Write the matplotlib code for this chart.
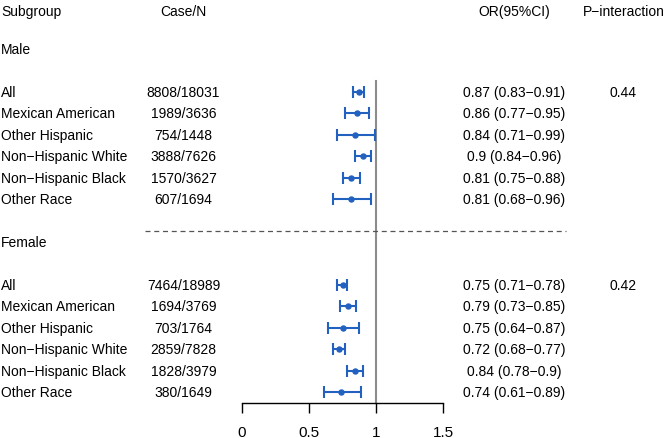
import numpy as np
import matplotlib
matplotlib.use("Agg")
import matplotlib.pyplot as plt
import matplotlib.transforms as mtransforms

plt.rcParams['font.family'] = ['Liberation Sans', 'DejaVu Sans']

# data
groups = ["Male", "Female"]
subgroups = ["All", "Mexican American", "Other Hispanic",
             "Non\u2212Hispanic White", "Non\u2212Hispanic Black", "Other Race"]
case_n = [["8808/18031", "1989/3636", "754/1448", "3888/7626", "1570/3627", "607/1694"],
          ["7464/18989", "1694/3769", "703/1764", "2859/7828", "1828/3979", "380/1649"]]
odds = [[0.87, 0.86, 0.84, 0.90, 0.81, 0.81],
        [0.75, 0.79, 0.75, 0.72, 0.84, 0.74]]
lower = [[0.83, 0.77, 0.71, 0.84, 0.75, 0.68],
         [0.71, 0.73, 0.64, 0.68, 0.78, 0.61]]
upper = [[0.91, 0.95, 0.99, 0.96, 0.88, 0.96],
         [0.78, 0.85, 0.87, 0.77, 0.90, 0.89]]
or_text = [["0.87 (0.83\u22120.91)", "0.86 (0.77\u22120.95)", "0.84 (0.71\u22120.99)",
            "0.9 (0.84\u22120.96)", "0.81 (0.75\u22120.88)", "0.81 (0.68\u22120.96)"],
           ["0.75 (0.71\u22120.78)", "0.79 (0.73\u22120.85)", "0.75 (0.64\u22120.87)",
            "0.72 (0.68\u22120.77)", "0.84 (0.78\u22120.9)", "0.74 (0.61\u22120.89)"]]
p_inter = ["0.44", "0.42"]
xticks = [0, 0.5, 1, 1.5]

W, H = 667, 439
blue = "#2361c0"

fig = plt.figure(figsize=(W / 100, H / 100), dpi=100)
ax = fig.add_axes([0, 0, 1, 1])

# x: 0 -> 242 px, 1.5 -> 443 px ; y: row units, 21.45 px per row
px_per_unit = (443.3 - 242) / 1.5
ax.set_xlim(-242 / px_per_unit, (W - 242) / px_per_unit)
row_h, row0 = 21.45, 49.8
ax.set_ylim((H - row0) / row_h, -row0 / row_h)

# x in figure pixels, y in row units
tr = mtransforms.blended_transform_factory(
    mtransforms.Affine2D().scale(1 / W, 1) + ax.transAxes, ax.transData)

fs = 10
hdr_y = -1.76
ax.text(1, hdr_y, "Subgroup", transform=tr, fontsize=fs, ha="left", va="center")
ax.text(183.5, hdr_y, "Case/N", transform=tr, fontsize=fs, ha="center", va="center")
ax.text(514, hdr_y, "OR(95%CI)", transform=tr, fontsize=fs, ha="center", va="center")
ax.text(624, hdr_y, "P\u2212interaction", transform=tr, fontsize=fs, ha="center", va="center")

for g, name in enumerate(groups):
    base = g * 9
    ax.text(1, base, name, transform=tr, fontsize=fs, ha="left", va="center")
    ys = base + 2 + np.arange(len(subgroups))
    for i, sg in enumerate(subgroups):
        y = ys[i]
        ax.text(1, y, sg, transform=tr, fontsize=fs, ha="left", va="center")
        ax.text(183.5, y, case_n[g][i], transform=tr, fontsize=fs, ha="center", va="center")
        ax.text(514, y, or_text[g][i], transform=tr, fontsize=fs, ha="center", va="center")
    ax.text(623.5, ys[0], p_inter[g], transform=tr, fontsize=fs, ha="center", va="center")
    est = np.array(odds[g])
    err = [est - np.array(lower[g]), np.array(upper[g]) - est]
    ax.errorbar(est, ys, xerr=err, fmt="o", color=blue, ms=3.6, lw=1.5,
                capsize=4.5, capthick=1.5, zorder=3)

# reference line at OR = 1
ax.plot([1, 1], [1.5, 16.5], color="#8c8c8c", lw=1.5, zorder=2)
# separator between groups
ax.plot([145, 566], [8.48, 8.48], transform=tr, color="#555555", lw=0.9,
        ls=(0, (4, 3)))

# x axis
for s in ["top", "right", "left"]:
    ax.spines[s].set_visible(False)
ax.spines["bottom"].set_position(("data", 16.5))
ax.spines["bottom"].set_bounds(0, 1.5)
ax.spines["bottom"].set_linewidth(1)
ax.set_xticks(xticks)
ax.set_xticklabels([f"{t:g}" for t in xticks], fontsize=fs + 1)
ax.tick_params(axis="x", length=7, width=1, pad=9)
ax.set_yticks([])
ax.patch.set_visible(False)

fig.savefig("out.png", dpi=100)
